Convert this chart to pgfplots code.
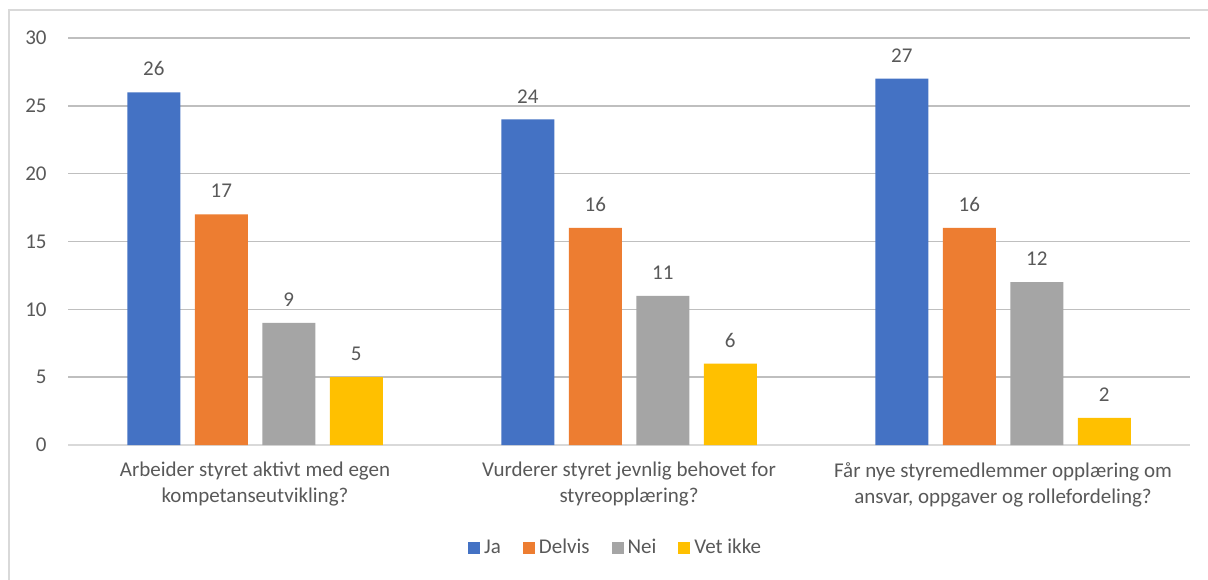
\documentclass[border=0pt]{standalone}
\usepackage{pgfplots}
\pgfplotsset{compat=1.18}
\usepackage{fontspec}
\setmainfont{Carlito}
\definecolor{cJa}{HTML}{4472C4}
\definecolor{cDelvis}{HTML}{ED7D31}
\definecolor{cNei}{HTML}{A5A5A5}
\definecolor{cVet}{HTML}{FFC000}
\definecolor{txt}{HTML}{595959}
\definecolor{grid}{HTML}{D9D9D9}
\begin{document}
\begin{tikzpicture}
\useasboundingbox (0,0) rectangle (604pt,289.5pt);
\fill[white] (0,0) rectangle (604pt,289.5pt);
\draw[grid, line width=1pt] (4.25pt,-10pt) -- (4.25pt,284.5pt) -- (620pt,284.5pt);
\begin{axis}[
  at={(34pt,67pt)}, anchor=south west,
  scale only axis, width=561pt, height=203.5pt,
  ybar=7.25pt, bar width=26.5pt,
  xmin=-0.5, xmax=2.5, ymin=0, ymax=30,
  xtick=data,
  xticklabels={{Arbeider styret aktivt med egen\\kompetanseutvikling?},{Vurderer styret jevnlig behovet for\\styreopplæring?},{Får nye styremedlemmer opplæring om\\ansvar, oppgaver og rollefordeling?}},
  ytick={0,5,10,15,20,25,30},
  xmajorgrids=false, ymajorgrids=true, grid style={grid, line width=0.75pt},
  axis x line*=bottom, axis y line*=left,
  x axis line style={grid, line width=0.75pt},
  y axis line style={draw=none},
  major tick length=0pt,
  xtick style={draw=none}, ytick style={draw=none},
  ticklabel style={font=\fontsize{10.5}{13}\selectfont, text=txt},
  yticklabel style={inner sep=0pt, xshift=-10.5pt},
  xticklabel style={align=center, inner sep=0pt, yshift=-8.5pt},
  /pgf/number format/assume math mode=true,
  nodes near coords,
  every node near coord/.append style={font=\fontsize{10.5}{13}\selectfont, text=txt, inner sep=0pt, yshift=8pt},
  legend columns=4,
  legend style={at={(0.489,-0.253)}, anchor=center, draw=none, fill=none,
    font=\fontsize{10.5}{13}\selectfont, text=txt,
    /tikz/every even column/.append style={column sep=9pt}},
  legend image code/.code={\fill[#1] (0pt,-3pt) rectangle (6pt,3pt);},
  legend cell align=left,
]
\addplot[fill=cJa, draw=none] coordinates {(0,26) (1,24) (2,27)};
\addplot[fill=cDelvis, draw=none] coordinates {(0,17) (1,16) (2,16)};
\addplot[fill=cNei, draw=none] coordinates {(0,9) (1,11) (2,12)};
\addplot[fill=cVet, draw=none] coordinates {(0,5) (1,6) (2,2)};
\legend{Ja, Delvis, Nei, Vet ikke}
\end{axis}
\end{tikzpicture}
\end{document}
